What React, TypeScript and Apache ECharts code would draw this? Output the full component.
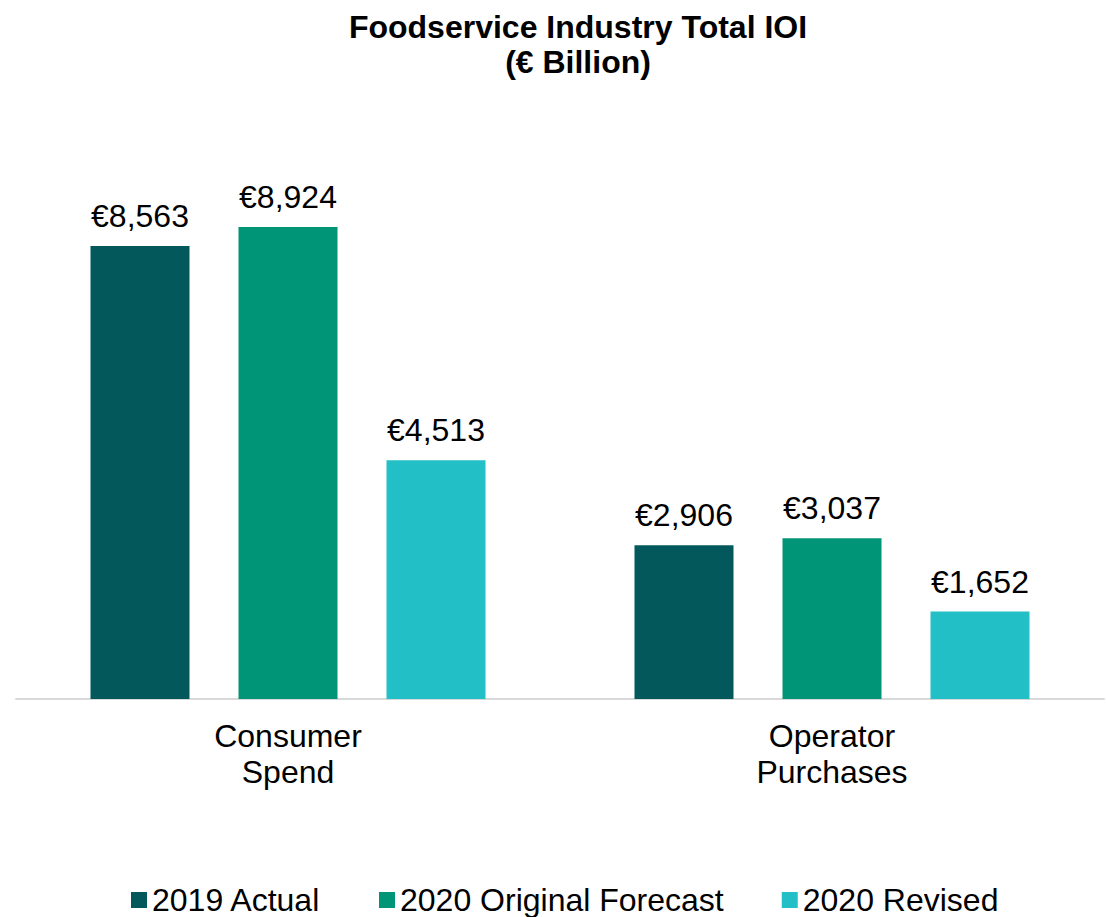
import React, { useEffect, useRef } from "react";
import * as echarts from "echarts";

const categories = ["Consumer\nSpend", "Operator\nPurchases"];
const seriesNames = ["2019 Actual", "2020 Original Forecast", "2020 Revised"];
const actual2019 = [8563, 2906];
const original2020 = [8924, 3037];
const revised2020 = [4513, 1652];
const colors = ["#02585A", "#009577", "#22BFC6"];

const FONT = "Liberation Sans, Arial, sans-serif";

export default function App() {
  const ref = useRef<HTMLDivElement>(null);
  useEffect(() => {
    if (!ref.current) return;
    const chart = echarts.init(ref.current, null, { renderer: "svg" });
    const values = [actual2019, original2020, revised2020];
    chart.setOption({
      animation: false,
      textStyle: { fontFamily: FONT },
      title: [
        {
          text: "Foodservice Industry Total IOI",
          left: 573,
          top: 6,
          textAlign: "center",
          textStyle: { fontFamily: FONT, fontSize: 32, fontWeight: "bold", color: "#000" },
        },
        {
          text: "(€ Billion)",
          left: 573,
          top: 41,
          textAlign: "center",
          textStyle: { fontFamily: FONT, fontSize: 32, fontWeight: "bold", color: "#000" },
        },
      ],
      legend: {
        left: 126,
        top: 879,
        itemWidth: 16,
        itemHeight: 16,
        itemGap: 58,
        itemTextGap: 5,
        icon: "rect",
        data: seriesNames,
        textStyle: { fontFamily: FONT, fontSize: 32, color: "#000" },
      },
      grid: { left: 16, right: 2, top: 170, bottom: 917 - 699, containLabel: false },
      xAxis: {
        type: "category",
        data: categories,
        axisLine: { lineStyle: { color: "#D9D9D9", width: 2 } },
        axisTick: { show: false },
        axisLabel: {
          fontFamily: FONT,
          fontSize: 32,
          color: "#000",
          lineHeight: 36,
          margin: 19,
          interval: 0,
        },
      },
      yAxis: {
        type: "value",
        min: 0,
        max: 10000,
        show: false,
        splitLine: { show: false },
      },
      series: seriesNames.map((name, i) => ({
        name,
        type: "bar",
        data: values[i],
        barWidth: 99,
        barGap: "49.5%",
        itemStyle: { color: colors[i] },
        label: {
          show: true,
          position: "top",
          distance: 14,
          fontFamily: FONT,
          fontSize: 32,
          color: "#000",
          formatter: (p: any) => "€" + Number(p.value).toLocaleString("en-US"),
        },
      })),
    });
    return () => chart.dispose();
  }, []);
  return (
    <div
      ref={ref}
      style={{ position: "absolute", left: 0, top: 0, width: 1106, height: 917, background: "#fff" }}
    />
  );
}
